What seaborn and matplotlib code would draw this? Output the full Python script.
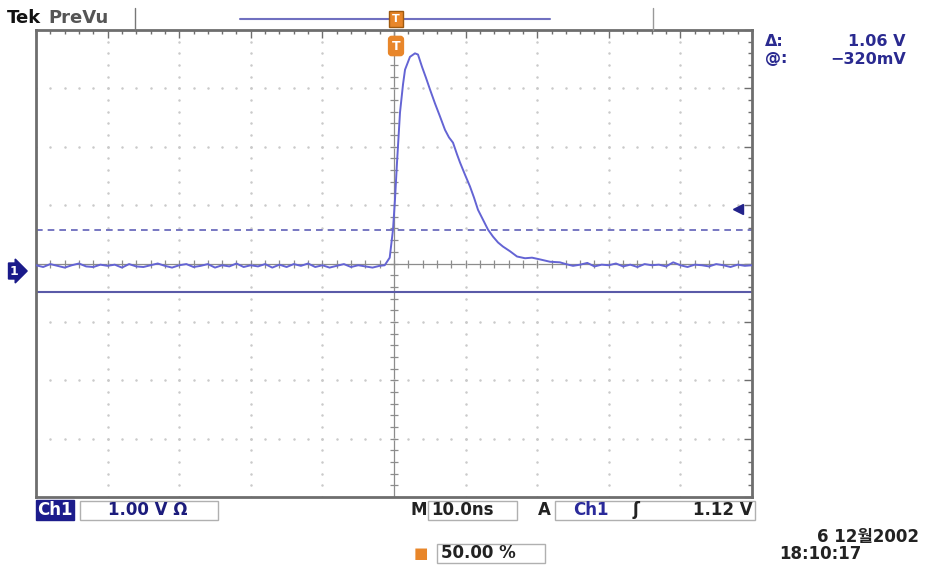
#!/usr/bin/env python
# -*- coding: utf-8 -*-

import numpy as np
import pandas as pd
import seaborn as sns
import matplotlib.pyplot as plt

# Ch1 trace, time in ns (10 ns/div), level in divisions (1.00 V/div)
time_pre = list(range(-50, -1))
volts_pre = [-0.03, -0.06, -0.01, -0.04, -0.07, -0.03, -0.00, -0.05, -0.06, -0.02,
             -0.04, -0.02, -0.07, -0.01, -0.05, -0.06, -0.03, -0.00, -0.04, -0.07,
             -0.03, -0.01, -0.06, -0.04, -0.01, -0.07, -0.03, -0.05, -0.00, -0.06,
             -0.03, -0.05, -0.01, -0.07, -0.02, -0.06, -0.01, -0.04, 0.00, -0.06,
             -0.03, -0.07, -0.04, -0.01, -0.06, -0.03, -0.05, -0.07, -0.04]
time_pulse = [-1.3, -0.6, -0.14, 0.14, 0.42, 0.84, 1.26, 1.54, 2.23, 2.93, 3.35, 3.91,
              4.47, 5.03, 5.73, 6.42, 7.12, 7.68, 8.24, 8.8, 9.22, 9.92, 10.61, 11.17,
              11.73, 12.43, 13.13, 13.83, 14.53, 15.22, 16.2, 17.18, 18.3, 19.27, 20.39,
              21.79, 23.18]
volts_pulse = [-0.03, 0.10, 0.58, 1.10, 1.73, 2.59, 3.07, 3.32, 3.54, 3.60, 3.58, 3.37,
               3.18, 2.98, 2.74, 2.52, 2.29, 2.16, 2.07, 1.87, 1.73, 1.52, 1.32, 1.13,
               0.92, 0.75, 0.58, 0.46, 0.36, 0.29, 0.21, 0.12, 0.09, 0.10, 0.07,
               0.03, 0.02]
time_post = list(range(24, 51))
volts_post = [-0.01, -0.04, -0.02, 0.01, -0.05, -0.02, -0.03, 0.00, -0.05, -0.02,
              -0.06, -0.01, -0.03, -0.02, -0.05, 0.02, -0.03, -0.06, -0.02, -0.03,
              -0.05, -0.01, -0.03, -0.06, -0.02, -0.04, -0.03]

cursor_solid = -0.48
cursor_dashed = 0.58
trigger_level = 0.94

W, H = 927, 566


def fx(x):
    return x / W


def fy(y):
    return 1 - y / H


sns.set_style("white")
plt.rcParams['font.family'] = ['DejaVu Sans', 'Noto Sans CJK KR']

trace = pd.DataFrame({
    "time": time_pre + time_pulse + time_post,
    "volts": volts_pre + volts_pulse + volts_post,
})

fig = plt.figure(figsize=(W / 100, H / 100), dpi=100)
ax = fig.add_axes([fx(36), fy(497), 716 / W, 467 / H])
ax.set_xlim(-50, 50)
ax.set_ylim(-4, 4)

# graticule dots
grid_col = "#cacaca"
for gx in range(-40, 50, 10):
    if gx == 0:
        continue
    ys = np.arange(-4, 4.01, 0.2)
    ax.plot(np.full_like(ys, gx), ys, ls="none", marker=".", ms=1.6, color=grid_col)
for gy in range(-3, 4):
    if gy == 0:
        continue
    xs = np.arange(-50, 50.01, 2)
    ax.plot(xs, np.full_like(xs, gy), ls="none", marker=".", ms=1.6, color=grid_col)

# centre crosshair with ticks
ax.axhline(0, color="#8c8c8c", lw=0.9, zorder=1)
ax.axvline(0, color="#8c8c8c", lw=0.9, zorder=1)
xs = np.arange(-50, 50.01, 2)
ax.plot(xs, np.zeros_like(xs), ls="none", marker="|", ms=6, mew=0.9, color="#8c8c8c")
ys = np.arange(-4, 4.01, 0.2)
ax.plot(np.zeros_like(ys), ys, ls="none", marker="_", ms=6, mew=0.9, color="#8c8c8c")

# cursors
ax.axhline(cursor_solid, color="#5a5aa8", lw=1.5, zorder=2)
ax.axhline(cursor_dashed, color="#6060b8", lw=1.2, ls=(0, (4, 3)), zorder=2)

sns.lineplot(data=trace, x="time", y="volts", ax=ax, color="#6464d4", lw=1.4, zorder=3)

ax.plot([48], [trigger_level], marker="<", ms=7, color="#22228a", clip_on=False, zorder=4)

ax.set_xlabel("")
ax.set_ylabel("")
ax.set_xticks(range(-50, 51, 10))
ax.set_xticks(np.arange(-50, 51, 2), minor=True)
ax.set_yticks(range(-4, 5))
ax.set_yticks(np.arange(-4, 4.01, 0.2), minor=True)
ax.tick_params(which="both", direction="in", top=True, right=True,
               labelbottom=False, labelleft=False, color="#6e6e6e")
ax.tick_params(which="major", length=6, width=1)
ax.tick_params(which="minor", length=3, width=1)
for s in ax.spines.values():
    s.set_color("#6e6e6e")
    s.set_linewidth(2)

# header
fig.text(fx(7), fy(18), "Tek", fontsize=13, fontweight="bold", color="#111111", va="center")
fig.text(fx(48), fy(18), "PreVu", fontsize=13, fontweight="bold", color="#555555", va="center")
fig.add_artist(plt.Line2D([fx(135), fx(135)], [fy(8), fy(30)], color="#777777", lw=1))
fig.add_artist(plt.Line2D([fx(240), fx(550)], [fy(19), fy(19)], color="#7070c0", lw=1.5))
fig.add_artist(plt.Line2D([fx(653), fx(653)], [fy(8), fy(30)], color="#999999", lw=1))
fig.text(fx(396), fy(19), "T", fontsize=8, fontweight="bold", color="white", ha="center", va="center",
         bbox=dict(boxstyle="square,pad=0.3", fc="#e8862a", ec="#a05a10", lw=1))
fig.text(fx(396), fy(46), "T", fontsize=9, fontweight="bold", color="white", ha="center", va="center",
         bbox=dict(boxstyle="round,pad=0.25", fc="#e8862a", ec="#e8862a"))

# readout
rc = "#2a2a90"
fig.text(fx(765), fy(42), "\u0394:", fontsize=11.5, fontweight="bold", color=rc, va="center")
fig.text(fx(906), fy(42), "1.06 V", fontsize=11.5, fontweight="bold", color=rc, va="center", ha="right")
fig.text(fx(765), fy(59), "@:", fontsize=11.5, fontweight="bold", color=rc, va="center")
fig.text(fx(906), fy(59), "\u2212320mV", fontsize=11.5, fontweight="bold", color=rc, va="center", ha="right")

# channel marker
fig.text(fx(10), fy(271), "1", fontsize=9, fontweight="bold", color="white", va="center",
         bbox=dict(boxstyle="rarrow,pad=0.12", fc="#1a1a8a", ec="#1a1a8a"))

# bottom status
box_ec = "#b0b0b0"
fs = 12
fig.text(fx(37), fy(510), "Ch1", fontsize=fs, fontweight="bold", color="white", va="center",
         bbox=dict(boxstyle="square,pad=0.08", fc="#1c1c8c", ec="#1c1c8c"))
fig.add_artist(plt.Rectangle((fx(80), fy(520)), fx(138), 19 / H, fill=False, ec=box_ec, lw=1))
fig.text(fx(108), fy(510), "1.00 V \u03a9", fontsize=fs, fontweight="bold", color="#1c1c7c", va="center")
fig.text(fx(410), fy(510), "M", fontsize=fs, fontweight="bold", color="#222222", va="center")
fig.add_artist(plt.Rectangle((fx(428), fy(520)), fx(89), 19 / H, fill=False, ec=box_ec, lw=1))
fig.text(fx(431), fy(510), "10.0ns", fontsize=fs, fontweight="bold", color="#222222", va="center")
fig.text(fx(538), fy(510), "A", fontsize=fs, fontweight="bold", color="#222222", va="center")
fig.add_artist(plt.Rectangle((fx(555), fy(520)), fx(200), 19 / H, fill=False, ec=box_ec, lw=1))
fig.text(fx(573), fy(510), "Ch1", fontsize=fs, fontweight="bold", color="#2a2a9a", va="center")
fig.text(fx(633), fy(510), "\u0283", fontsize=fs, fontweight="bold", color="#222222", va="center")
fig.text(fx(753), fy(510), "1.12 V", fontsize=fs, fontweight="bold", color="#222222", va="center", ha="right")

fig.text(fx(421), fy(553), "\u25a0", fontsize=11, color="#e8862a", va="center", ha="center")
fig.add_artist(plt.Rectangle((fx(437), fy(563)), fx(108), 19 / H, fill=False, ec=box_ec, lw=1))
fig.text(fx(441), fy(553), "50.00 %", fontsize=fs, fontweight="bold", color="#222222", va="center")

fig.text(fx(919), fy(537), "6 12\uc6d42002", fontsize=fs, fontweight="bold", color="#222222",
         va="center", ha="right")
fig.text(fx(779), fy(554), "18:10:17", fontsize=fs, fontweight="bold", color="#222222", va="center")

fig.savefig("out.png", dpi=100)
